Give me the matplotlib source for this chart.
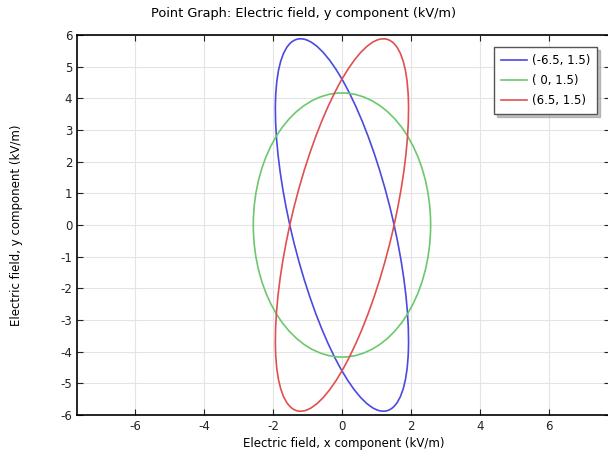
import numpy as np
import matplotlib.pyplot as plt
from matplotlib.patches import Ellipse

plt.rcParams['axes.unicode_minus'] = False

# polarization ellipses
labels = ['(-6.5, 1.5)', '( 0, 1.5)', '(6.5, 1.5)']
colors = ['#4a4ae0', '#6cc86c', '#e05050']
x_amp = [1.93, 2.57, 1.93]       # max |Ex| (kV/m)
y_amp = [5.88, 4.17, 5.88]       # max |Ey| (kV/m)
x_at_ymax = [-1.20, 0.0, 1.20]   # Ex where Ey is at its max

xticks = [-6, -4, -2, 0, 2, 4, 6]
yticks = list(range(-6, 7))

fig = plt.figure(figsize=(6.08, 4.53), dpi=100)
ax = fig.add_axes([77 / 608, 38 / 453, 533 / 608, 380 / 453])

for lab, c, a, b, xt in zip(labels, colors, x_amp, y_amp, x_at_ymax):
    # ellipse = A * unit circle, with A A^T = C
    C = np.array([[a * a, b * xt], [b * xt, b * b]])
    w, v = np.linalg.eigh(C)
    ang = np.degrees(np.arctan2(v[1, 1], v[0, 1]))
    e = Ellipse((0, 0), 2 * np.sqrt(w[1]), 2 * np.sqrt(w[0]), angle=ang,
                fill=False, edgecolor=c, lw=1.2)
    ax.add_patch(e)
    ax.plot([], [], color=c, lw=1.2, label=lab)

ax.set_xlim(-7.68, -7.68 + 533 / 34.5)
ax.set_ylim(-6, 6)
ax.set_xticks(xticks)
ax.set_yticks(yticks)
ax.grid(color='#e4e4e4', lw=0.8)
ax.set_axisbelow(True)
ax.tick_params(direction='in', top=True, right=True, length=4, labelsize=8.5, colors='#222222')
for s in ax.spines.values():
    s.set_linewidth(1.2)
ax.spines['right'].set_visible(False)

ax.set_xlabel('Electric field, x component (kV/m)', fontsize=8.5, labelpad=3)
ax.set_ylabel('Electric field, y component (kV/m)', fontsize=8.5, labelpad=27)
fig.text(0.5, 1 - 13 / 453, 'Point Graph: Electric field, y component (kV/m)',
         ha='center', va='center', fontsize=9.3)

leg = ax.legend(loc='upper right', fontsize=8.5, fancybox=False,
                shadow={'ox': 2, 'oy': -2, 'color': '#888888'},
                framealpha=1, edgecolor='#555555', handlelength=2.2, handletextpad=0.4,
                borderpad=0.6, labelspacing=0.6, borderaxespad=0)
leg.set_bbox_to_anchor((597 / 608, 1 - 47 / 453), transform=fig.transFigure)

fig.savefig('out.png', dpi=100)
